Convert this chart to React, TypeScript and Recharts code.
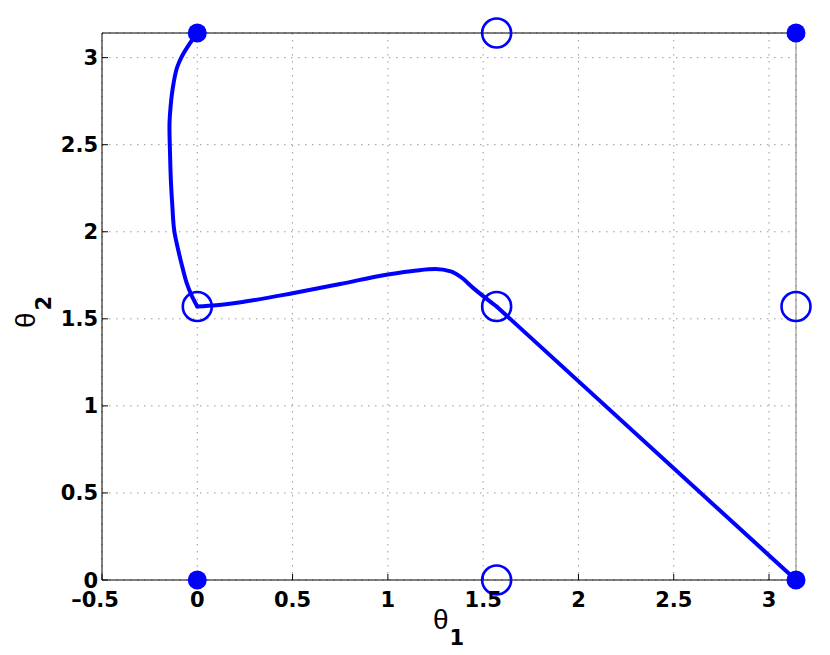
import React from "react"
import { ComposedChart, Scatter, XAxis, YAxis, CartesianGrid } from "recharts"

// trajectory in joint space (theta1, theta2), in three pieces
const leg1T1 = [0, -0.04, -0.084, -0.104, -0.125, -0.14, -0.146, -0.143, -0.138, -0.131, -0.12, -0.1, -0.079, -0.055, -0.03, 0]
const leg1T2 = [3.1416, 3.08, 3.0, 2.95, 2.85, 2.72, 2.6, 2.45, 2.28, 2.15, 2.0, 1.895, 1.8, 1.704, 1.635, 1.5708]

const leg2T1 = [0, 0.1, 0.25, 0.5, 0.75, 1.0, 1.15, 1.25, 1.33, 1.38, 1.45, 1.5708]
const leg2T2 = [1.5708, 1.578, 1.599, 1.647, 1.7, 1.755, 1.778, 1.786, 1.772, 1.742, 1.675, 1.5708]

const leg3T1 = [1.5708, 3.1416]
const leg3T2 = [1.5708, 0]

// equilibria: stable (filled) and unstable (open)
const filledT1 = [0, 3.1416, 0, 3.1416]
const filledT2 = [3.1416, 3.1416, 0, 0]
const openT1 = [1.5708, 0, 1.5708, 3.1416, 1.5708]
const openT2 = [3.1416, 1.5708, 1.5708, 1.5708, 0]

const xTicks = [-0.5, 0, 0.5, 1, 1.5, 2, 2.5, 3]
const yTicks = [0, 0.5, 1, 1.5, 2, 2.5, 3]

const BLUE = "#0000ff"
const FONT = "DejaVu Sans"

const pairs = (a: number[], b: number[]) => a.map((t1, i) => ({ t1, t2: b[i] }))
const leg1 = pairs(leg1T1, leg1T2)
const leg2 = pairs(leg2T1, leg2T2)
const leg3 = pairs(leg3T1, leg3T2)
const filledData = pairs(filledT1, filledT2)
const openData = pairs(openT1, openT2)

const fmt = (v: number) => (v < 0 ? "\u2013" + String(-v) : String(v))

function XTick({ x, y, payload }: any) {
  const v = payload.value
  return (
    <text x={x + (v < 0 ? -7 : 0)} y={y + 27} textAnchor="middle" fontFamily={FONT} fontWeight="bold" fontSize={21} fill="#000">
      {fmt(v)}
    </text>
  )
}

function YTick({ x, y, payload }: any) {
  return (
    <text x={x - 4} y={y + 7.5} textAnchor="end" fontFamily={FONT} fontWeight="bold" fontSize={21} fill="#000">
      {fmt(payload.value)}
    </text>
  )
}

function XLabel() {
  return (
    <text x={433} y={629} fontFamily="Liberation Sans" fontSize={28} fill="#000">
      θ
      <tspan dx={1} dy={16} fontFamily={FONT} fontWeight="bold" fontSize={21}>1</tspan>
    </text>
  )
}

function YLabel() {
  return (
    <text transform="translate(35,328) rotate(-90)" fontFamily="Liberation Sans" fontSize={28} fill="#000">
      θ
      <tspan dx={2} dy={16} fontFamily={FONT} fontWeight="bold" fontSize={21}>2</tspan>
    </text>
  )
}

const noShape = () => <g />
const filledDot = (p: any) => <circle cx={p.cx} cy={p.cy} r={9.5} fill={BLUE} />
const openDot = (p: any) => <circle cx={p.cx} cy={p.cy} r={14.5} fill="none" stroke={BLUE} strokeWidth={2.6} />
const pathLine = { stroke: BLUE, strokeWidth: 4, strokeLinejoin: "round", strokeLinecap: "round" }

export default function App() {
  return (
    <div style={{ position: "absolute", left: 0, top: 0, width: 830, height: 655, background: "#fff" }}>
      <ComposedChart width={830} height={655} margin={{ top: 32, right: 33, bottom: 0, left: 0 }}>
        <CartesianGrid stroke="#999" strokeDasharray="1.5 5.5" />
        <XAxis
          dataKey="t1"
          type="number"
          domain={[-0.5, 3.1416]}
          ticks={xTicks}
          height={75}
          tickSize={-6}
          tickMargin={6}
          stroke="#000"
          tick={XTick}
          label={<XLabel />}
        />
        <XAxis xAxisId="top" orientation="top" type="number" domain={[-0.5, 3.1416]} ticks={xTicks} height={1} tickSize={-6} tick={false} stroke="#000" />
        <YAxis
          dataKey="t2"
          type="number"
          domain={[0, 3.1416]}
          ticks={yTicks}
          width={102}
          tickSize={-6}
          tickMargin={6}
          stroke="#000"
          tick={YTick}
          label={<YLabel />}
        />
        <YAxis yAxisId="right" orientation="right" type="number" domain={[0, 3.1416]} ticks={yTicks} width={1} tickSize={-6} tick={false} stroke="#808080" />
        <Scatter data={leg1} dataKey="t2" line={pathLine} lineJointType="monotoneY" shape={noShape} isAnimationActive={false} />
        <Scatter data={leg2} dataKey="t2" line={pathLine} lineJointType="monotoneX" shape={noShape} isAnimationActive={false} />
        <Scatter data={leg3} dataKey="t2" line={pathLine} lineJointType="linear" shape={noShape} isAnimationActive={false} />
        <Scatter data={filledData} dataKey="t2" shape={filledDot} isAnimationActive={false} />
        <Scatter data={openData} dataKey="t2" shape={openDot} isAnimationActive={false} />
      </ComposedChart>
    </div>
  )
}
